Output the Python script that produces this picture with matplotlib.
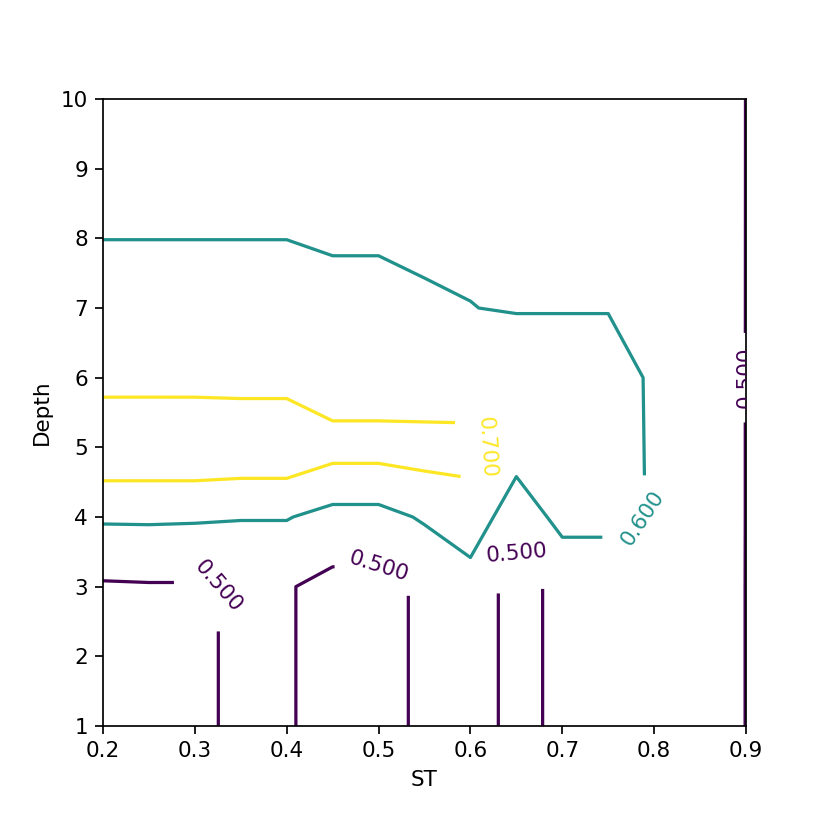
import numpy as np
import matplotlib
matplotlib.use("Agg")
import matplotlib.pyplot as plt

# grid
st = [0.2, 0.25, 0.3, 0.35, 0.4, 0.45, 0.5, 0.55, 0.6, 0.65, 0.7, 0.75, 0.8, 0.85, 0.9]
depth = [1, 2, 3, 4, 5, 6, 7, 8, 9, 10]

score_d1 = [0.4896, 0.4928, 0.4929, 0.5068, 0.5069, 0.4723, 0.4702, 0.5162, 0.5566, 0.4634, 0.5274, 0.5274, 0.55, 0.55, 0.499]
score_d2 = [0.4896, 0.4928, 0.4929, 0.5068, 0.5069, 0.4723, 0.4702, 0.5162, 0.5566, 0.4634, 0.5274, 0.5274, 0.55, 0.55, 0.499]
score_d3 = [0.4896, 0.4928, 0.4929, 0.5068, 0.5069, 0.4723, 0.4702, 0.5162, 0.5566, 0.4634, 0.5274, 0.5274, 0.55, 0.55, 0.499]
score_d4 = [0.6123, 0.6133, 0.6106, 0.6049, 0.6049, 0.5695, 0.5695, 0.6104, 0.6603, 0.5397, 0.6297, 0.6297, 0.5926, 0.56, 0.499]
score_d5 = [0.781, 0.780, 0.7825, 0.7763, 0.7763, 0.739, 0.739, 0.7462, 0.7312, 0.6437, 0.65, 0.65, 0.5859, 0.56, 0.499]
score_d6 = [0.6685, 0.669, 0.6679, 0.6673, 0.6673, 0.6364, 0.6364, 0.6196, 0.6421, 0.6575, 0.6575, 0.6575, 0.5818, 0.565, 0.499]
score_d7 = [0.65, 0.65, 0.65, 0.65, 0.65, 0.63, 0.63, 0.62, 0.6011, 0.595, 0.595, 0.595, 0.57, 0.57, 0.499]
score_d8 = [0.599, 0.599, 0.599, 0.599, 0.599, 0.59, 0.59, 0.5735, 0.59, 0.58, 0.58, 0.58, 0.57, 0.575, 0.499]
score_d9 = [0.58, 0.58, 0.58, 0.58, 0.58, 0.58, 0.58, 0.58, 0.58, 0.58, 0.58, 0.58, 0.58, 0.58, 0.499]
score_d10 = [0.57, 0.57, 0.57, 0.57, 0.57, 0.57, 0.57, 0.57, 0.57, 0.57, 0.57, 0.57, 0.57, 0.585, 0.499]

levels = [0.5, 0.6, 0.7]

score = np.array([score_d1, score_d2, score_d3, score_d4, score_d5,
                  score_d6, score_d7, score_d8, score_d9, score_d10])

# where the labels sit
label_spots = [(0.3256, 3.0), (0.5015, 3.31), (0.65, 3.48), (0.899, 6.0),
               (0.787, 3.98), (0.621, 5.0)]

fig = plt.figure(figsize=(830 / 155, 830 / 155), dpi=155)
ax = fig.add_axes([0.1241, 0.1253, 0.7747, 0.7554])

cs = ax.contour(st, depth, score, levels=levels, cmap="viridis")
ax.clabel(cs, inline=True, inline_spacing=14, fmt="%1.3f", manual=label_spots)

ax.set_xticks([0.2, 0.3, 0.4, 0.5, 0.6, 0.7, 0.8, 0.9])
ax.set_yticks(depth)
ax.set_xlabel("ST")
ax.set_ylabel("Depth")

fig.savefig("out.png", dpi=155)
